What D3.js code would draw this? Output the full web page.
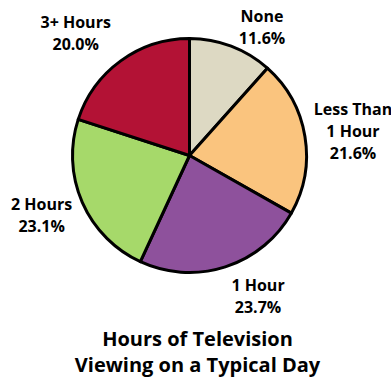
<!DOCTYPE html>
<html><head><meta charset="utf-8">
<script src="https://cdn.jsdelivr.net/npm/d3@7"></script>
<style>
html,body{margin:0;padding:0;background:#fff;}
svg{display:block;}
text{font-family:"Open Sans","Noto Sans",sans-serif;font-weight:700;fill:#000;}
</style></head>
<body>
<svg id="chart" width="391" height="382"></svg>
<script>
const categories = ["None", "Less Than 1 Hour", "1 Hour", "2 Hours", "3+ Hours"];
const labelLines = [["None"], ["Less Than", "1 Hour"], ["1 Hour"], ["2 Hours"], ["3+ Hours"]];
const values = [11.6, 21.6, 23.7, 23.1, 20.0];
const colors = ["#DDD9C3", "#FAC47E", "#8E519C", "#A6D96A", "#B31235"];
const titleLines = ["Hours of Television", "Viewing on a Typical Day"];

// label placement: angle (deg, clockwise from top) and distance from pie centre to label centre
const labelPlace = [
  {angle: 29.4, dist: 147.7},
  {angle: 81.5, dist: 165.3},
  {angle: 154.1, dist: 156.9},
  {angle: 247.9, dist: 159.6},
  {angle: -42.9, dist: 167.2}
];

const svg = d3.select("#chart");
const cx = 189.5, cy = 155.5, R = 117;
const g = svg.append("g").attr("transform", `translate(${cx},${cy})`);

const data = categories.map((c, i) => ({cat: c, value: values[i], i}));
const pie = d3.pie().value(d => d.value).sort(null);
const arc = d3.arc().innerRadius(0).outerRadius(R);

g.selectAll("path.slice").data(pie(data)).join("path")
  .attr("class", "slice")
  .attr("d", arc)
  .attr("fill", d => colors[d.data.i])
  .attr("stroke", "#000")
  .attr("stroke-width", 3)
  .attr("stroke-linejoin", "round");

const fs = 16, lh = 22;
data.forEach((d, i) => {
  const p = labelPlace[i];
  const a = p.angle * Math.PI / 180;
  const x = Math.sin(a) * p.dist, y = -Math.cos(a) * p.dist;
  const lines = labelLines[i].concat([d3.format(".1f")(d.value) + "%"]);
  const t = g.append("text").attr("text-anchor", "middle").style("font-size", fs + "px");
  const n = lines.length;
  lines.forEach((ln, k) => {
    t.append("tspan").attr("x", x)
      .attr("y", y + (k - (n - 1) / 2) * lh + fs * 0.36)
      .text(ln);
  });
});

titleLines.forEach((ln, k) => {
  svg.append("text").attr("text-anchor", "middle").style("font-size", "20px")
    .attr("x", 197.5).attr("y", 346 + k * 26).text(ln);
});
</script>
</body></html>
